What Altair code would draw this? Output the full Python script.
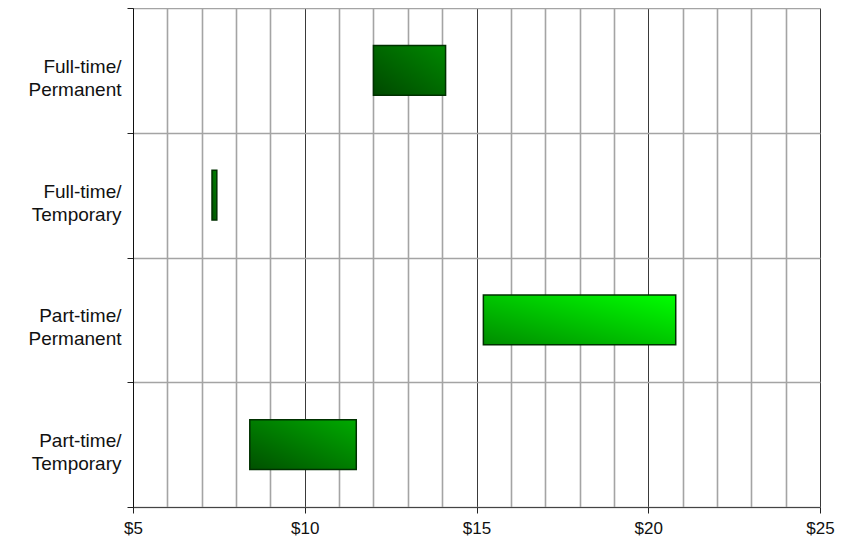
import altair as alt
import pandas as pd

categories = ["Full-time/Permanent", "Full-time/Temporary", "Part-time/Permanent", "Part-time/Temporary"]
low_values = [12.0, 7.3, 15.2, 8.4]
high_values = [14.1, 7.44, 20.8, 11.5]
x_ticks = list(range(5, 26))

df = pd.DataFrame({"category": categories, "low": low_values, "high": high_values})

# gradient styles (bottom-left -> top-right) per category
gradient_stops = {
    "Full-time/Permanent": ("#004800", "#008800"),
    "Full-time/Temporary": ("#004c00", "#008400"),
    "Part-time/Permanent": ("#008c00", "#00ff00"),
    "Part-time/Temporary": ("#005000", "#00aa00"),
}

FONT = "Liberation Sans"

x_enc = alt.X(
    "low:Q",
    scale=alt.Scale(domain=[5, 25], nice=False, zero=False),
    axis=alt.Axis(
        values=x_ticks,
        labelExpr="datum.value % 5 === 0 ? '$' + datum.value : ''",
        grid=True,
        gridColor={"condition": {"test": "datum.value % 5 === 0", "value": "#3a3a3a"}, "value": "#a4a4a4"},
        gridWidth={"condition": {"test": "datum.value % 5 === 0", "value": 1}, "value": 1.6},
        tickColor={"condition": {"test": "datum.value % 5 === 0", "value": "#222222"}, "value": "transparent"},
        tickSize=6,
        domainColor="#444444",
        labelFont=FONT,
        labelFontSize=17,
        labelColor="#111111",
        labelPadding=7,
        labelFlush=False,
        title=None,
    ),
)

y_enc = alt.Y(
    "category:N",
    sort=categories,
    scale=alt.Scale(paddingInner=0, paddingOuter=0),
    axis=alt.Axis(
        tickBand="extent",
        grid=True,
        gridColor="#a4a4a4",
        gridWidth=1.6,
        tickColor="#222222",
        tickSize=6,
        domainColor="#111111",
        labelExpr="datum.label ? [split(datum.label, '/')[0] + '/', split(datum.label, '/')[1]] : ''",
        labelFont=FONT,
        labelFontSize=19,
        labelLineHeight=23,
        labelColor="#111111",
        labelPadding=6,
        labelOffset=-4,
        title=None,
    ),
)

base = alt.Chart(df).encode(x=x_enc, x2="high:Q", y=y_enc)

layers = []
for cat in categories:
    c0, c1 = gradient_stops[cat]
    grad = alt.Gradient(
        gradient="linear",
        x1=0, y1=1, x2=1, y2=0,
        stops=[alt.GradientStop(color=c0, offset=0), alt.GradientStop(color=c1, offset=1)],
    )
    layers.append(
        base.transform_filter(alt.datum.category == cat).mark_bar(
            fill=grad, stroke="#003000", strokeWidth=1.5,
            height=alt.RelativeBandSize(0.4),
        )
    )

chart = (
    alt.layer(*layers)
    .properties(
        width=687,
        height=499,
        autosize=alt.AutoSizeParams(type="none"),
        padding={"left": 125, "top": 0, "right": 24, "bottom": 31},
        background="white",
    )
    .configure_view(strokeWidth=0)
)

chart.save("out.html", embed_options={"renderer": "svg", "actions": False})
